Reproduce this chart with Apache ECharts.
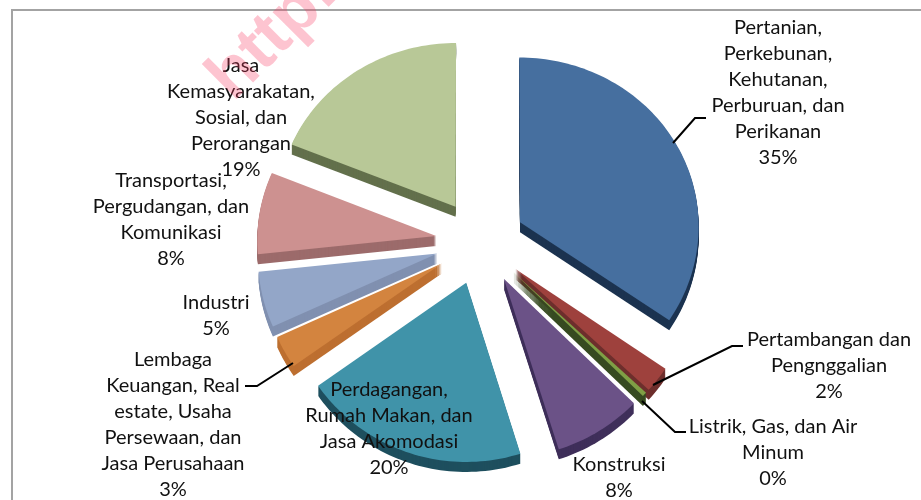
<!DOCTYPE html>
<html>
<head>
    <meta charset="utf-8">
    <title>ECharts</title>
    <script src="https://cdn.jsdelivr.net/npm/echarts@6/dist/echarts.min.js"></script>
    <style>
        html, body { margin: 0; padding: 0; background: #fff; }
        #main { width: 921px; height: 500px; }
    </style>
</head>
<body>
<div id="main"></div>
<script type="text/javascript">
    // clockwise from 12 o'clock, shares in percent
    var categories = [
        'Pertanian,\nPerkebunan,\nKehutanan,\nPerburuan, dan\nPerikanan',
        'Pertambangan dan\nPengnggalian',
        'Listrik, Gas, dan Air\nMinum',
        'Konstruksi',
        'Perdagangan,\nRumah Makan, dan\nJasa Akomodasi',
        'Lembaga\nKeuangan, Real\nestate, Usaha\nPersewaan, dan\nJasa Perusahaan',
        'Industri',
        'Transportasi,\nPergudangan, dan\nKomunikasi',
        'Jasa\nKemasyarakatan,\nSosial, dan\nPerorangan'
    ];
    var shares = [34.6, 2.4, 0.4, 7.8, 19.9, 3, 5.2, 7.8, 18.9];

    var topColors = ['#466f9f', '#9e413d', '#7f9f45', '#6b5287', '#4093a9', '#d3843f', '#93a6c8', '#cd9190', '#b8c897'];
    var sideColors = ['#1c3350', '#6d2e2c', '#364a20', '#3f2f5a', '#1e4f5e', '#bd6f30', '#8090b0', '#9c6b6b', '#63704c'];

    // label centres in pixels
    var labelCenters = [[778, 93], [829, 366], [773, 453], [619, 478], [389, 429], [173, 425], [216, 316], [171, 220], [241, 118]];
    var leaderLines = [
        [[673, 143], [695, 118], [706, 118]],
        [[653, 385], [732, 346], [743, 346]],
        [[642, 401], [675, 432], [686, 432]],
        [[293, 363], [257, 386], [245, 386]]
    ];

    var EXPLODE = 0.25; // in pie radii, every slice is pulled out the same
    var DEPTH = 10;
    var FONT = 'Lato, "Open Sans", sans-serif';

    var total = shares.reduce(function (a, b) { return a + b; }, 0);
    var starts = [];
    shares.reduce(function (acc, v, i) { starts[i] = acc; return acc + v; }, 0);

    // the 3d view is tilted, the near side of the pie comes out a bit bigger
    function project(api, u, v) {
        return api.coord([u / (1 + 0.02 * v), v / (1 + 0.031 * v)]);
    }

    function renderSlice(params, api) {
        var i = params.dataIndex;
        var a0 = starts[i] / total * Math.PI * 2;
        var a1 = a0 + api.value(1) / total * Math.PI * 2;
        var mid = (a0 + a1) / 2;
        var ox = Math.sin(mid) * EXPLODE;
        var oy = Math.cos(mid) * EXPLODE;
        var pts = [project(api, ox, oy)];
        var steps = Math.max(2, Math.ceil((a1 - a0) * 40));
        for (var s = 0; s <= steps; s++) {
            var a = a0 + (a1 - a0) * s / steps;
            pts.push(project(api, ox + Math.sin(a), oy + Math.cos(a)));
        }
        var z = Math.round(-Math.cos(mid) * 100) + 100;
        var children = [];
        for (var d = DEPTH; d > 0; d--) {
            children.push({
                type: 'polygon',
                z2: z,
                silent: true,
                shape: { points: pts.map(function (p) { return [p[0], p[1] + d]; }) },
                style: { fill: sideColors[i] }
            });
        }
        children.push({
            type: 'polygon',
            z2: z + 1,
            silent: true,
            shape: { points: pts },
            style: { fill: topColors[i] }
        });
        children.push({
            type: 'text',
            z2: 1000,
            silent: true,
            x: labelCenters[i][0],
            y: labelCenters[i][1],
            style: {
                text: categories[i] + '\n' + Math.round(api.value(1)) + '%',
                fill: '#111',
                font: '20px ' + FONT,
                lineHeight: 26,
                align: 'center',
                verticalAlign: 'middle'
            }
        });
        return { type: 'group', children: children };
    }

    var chart = echarts.init(document.getElementById('main'));
    chart.setOption({
        animation: false,
        backgroundColor: '#fff',
        grid: { left: 247.8, top: 19.7, width: 465.4, height: 444.6 },
        xAxis: { type: 'value', min: -1.3, max: 1.3, show: false },
        yAxis: { type: 'value', min: -1.3, max: 1.3, show: false },
        series: [{
            type: 'custom',
            clip: false,
            renderItem: renderSlice,
            data: shares.map(function (v, i) { return [i, v]; })
        }],
        graphic: [
            {
                type: 'polyline',
                z: 1,
                silent: true,
                shape: { points: [[12, 500], [12, 10], [921, 10]] },
                style: { stroke: '#a3a3a3', lineWidth: 2, fill: null }
            },
            {
                type: 'text',
                z: 50,
                silent: true,
                x: 220,
                y: 89,
                rotation: Math.PI / 4,
                style: {
                    text: 'http://',
                    fill: 'rgba(250,60,100,0.3)',
                    font: 'bold 68px "Liberation Sans", sans-serif',
                    align: 'left',
                    verticalAlign: 'middle'
                }
            }
        ].concat(leaderLines.map(function (line) {
            return {
                type: 'polyline',
                z: 10,
                silent: true,
                shape: { points: line },
                style: { stroke: '#000', lineWidth: 2, fill: null }
            };
        }))
    });
</script>
</body>
</html>
